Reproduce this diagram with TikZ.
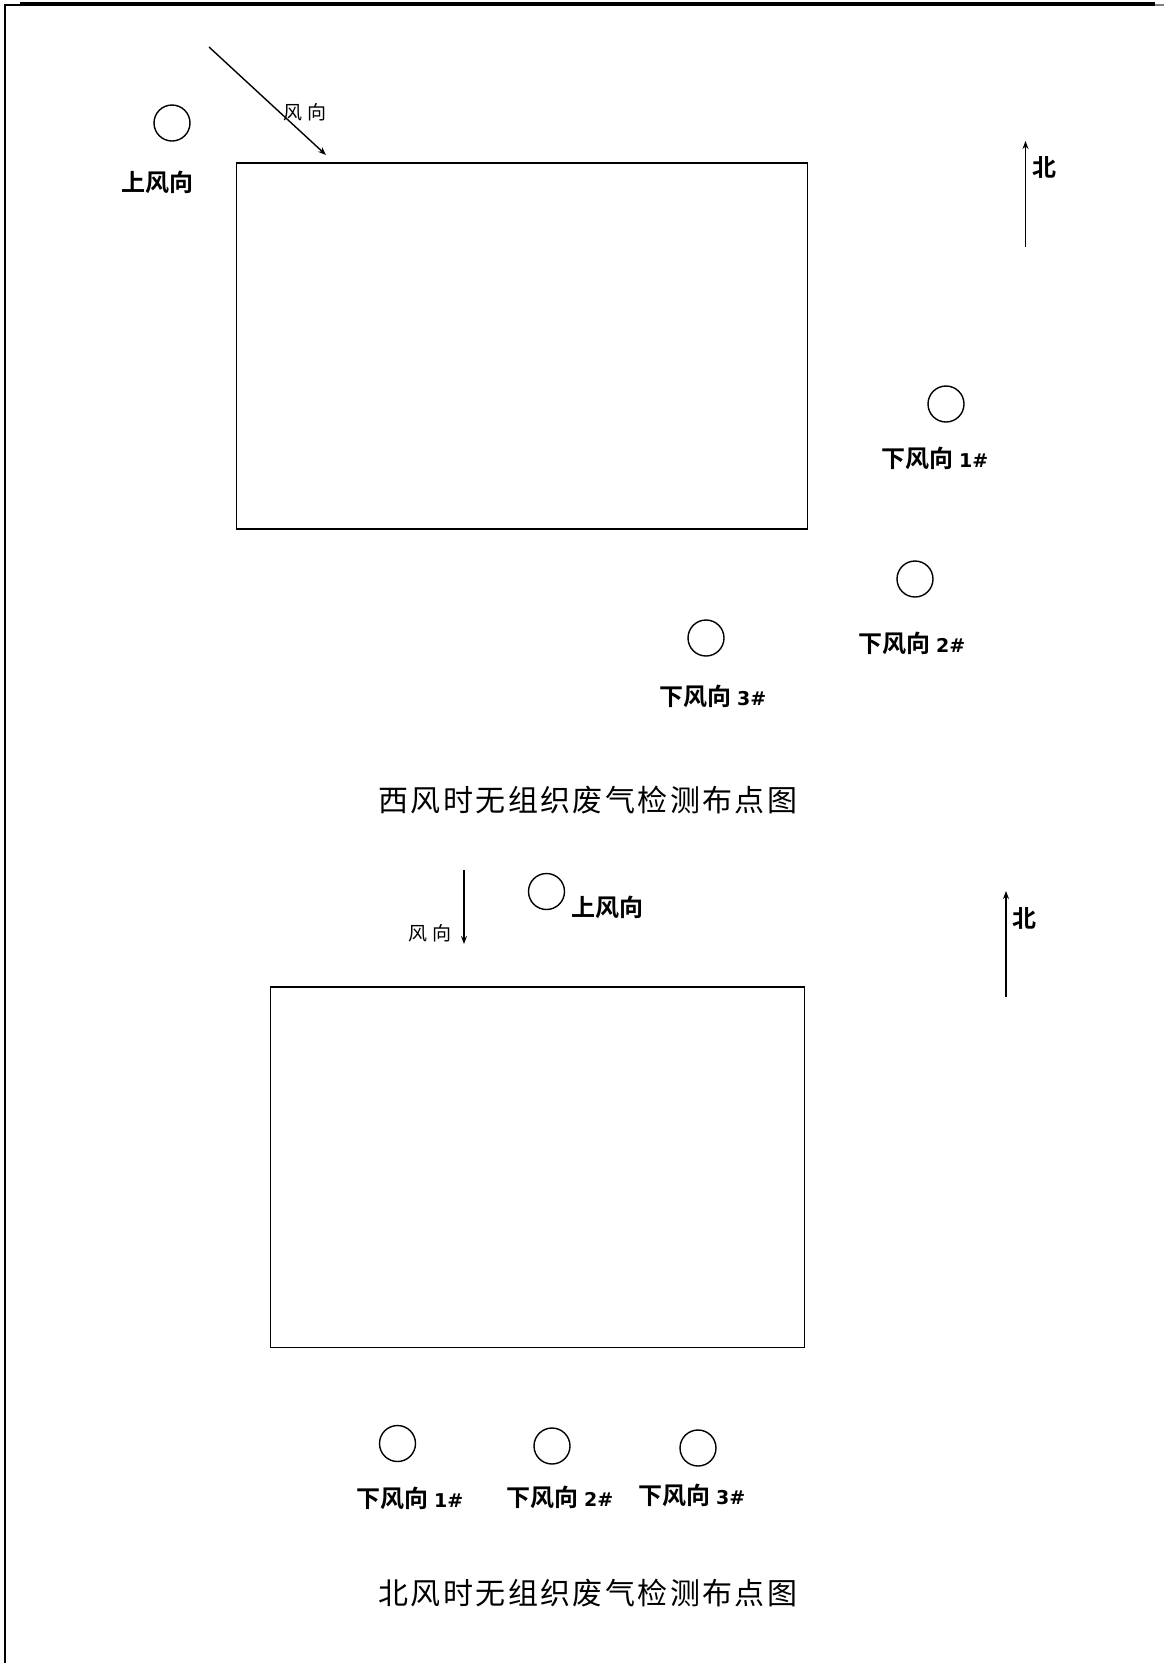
\documentclass[tikz,border=0pt]{standalone}
\usepackage{fontspec}
\usetikzlibrary{arrows.meta}
\newfontfamily\cjk{Noto Sans CJK SC}
\newfontfamily\cjkbold{Noto Sans CJK SC Bold}
\newfontfamily\latb{DejaVu Sans Bold}
\newfontfamily\titlefont[LetterSpace=8]{Noto Sans CJK SC}
\tikzset{
  site/.style={circle, draw, line width=1.4pt, minimum size=36pt, inner sep=0pt},
  lbl/.style={font=\cjkbold\fontsize{24}{28}\selectfont, inner sep=0pt},
  wlbl/.style={font=\cjk\fontsize{19}{22}\selectfont, inner sep=0pt},
  ttl/.style={font=\titlefont\fontsize{30}{36}\selectfont, inner sep=0pt},
  arr/.style={-{Stealth[length=8pt,width=6pt]}, line width=1.4pt},
  plot/.style={draw, line width=1.4pt},
}
\newcommand{\num}[1]{{\latb\fontsize{19}{24}\selectfont #1}}
\begin{document}
\begin{tikzpicture}[x=1pt,y=-1pt]
\useasboundingbox (0,0) rectangle (1164,1663);
\fill[white] (0,0) rectangle (1164,1663);
% frame
\coordinate (fa) at (20,4); \coordinate (fb) at (1155,4);
\coordinate (fc) at (1155,5); \coordinate (fd) at (1164,5);
\coordinate (fe) at (5,5); \coordinate (ff) at (5,1663); \coordinate (fg) at (20,5);
\draw[line width=3.5pt] (fa) -- (fb);
\draw[line width=1.2pt, gray] (fc) -- (fd);
\draw[line width=1.4pt] (fg) -- (fe) -- (ff);

% ---------- top diagram (west wind) ----------
\draw[plot] (236.5,163) rectangle (807.5,529);
\coordinate (w1s) at (209,47); \coordinate (w1e) at (326,155);
\draw[arr] (w1s) -- (w1e);
\node[wlbl] (w1l) at (305,112) {风 向};
\node[site] (u1) at (172,123) {};
\node[lbl] (u1l) at (157,182) {上风向};
\coordinate (n1s) at (1025.5,247); \coordinate (n1e) at (1025.5,141);
\draw[arr, line width=1.6pt] (n1s) -- (n1e);
\node[lbl] (n1l) at (1044,167) {北};
\node[site] (d11) at (946,404) {};
\node[lbl] (d11l) at (935,458) {下风向 \num{1\#}};
\node[site] (d12) at (915,579) {};
\node[lbl] (d12l) at (912,643) {下风向 \num{2\#}};
\node[site] (d13) at (706,638) {};
\node[lbl] (d13l) at (713,696) {下风向 \num{3\#}};
\node[ttl] (t1) at (588,800) {西风时无组织废气检测布点图};

% ---------- bottom diagram (north wind) ----------
\draw[plot] (270.5,987) rectangle (804.5,1347.5);
\coordinate (w2s) at (464,870); \coordinate (w2e) at (464,944);
\draw[arr] (w2s) -- (w2e);
\node[wlbl] (w2l) at (430,933) {风 向};
\node[site] (u2) at (546.5,891.5) {};
\node[lbl] (u2l) at (607,907) {上风向};
\coordinate (n2s) at (1006,997); \coordinate (n2e) at (1006,891);
\draw[arr, line width=1.6pt] (n2s) -- (n2e);
\node[lbl] (n2l) at (1024,918) {北};
\node[site] (d21) at (397.5,1443.5) {};
\node[lbl] (d21l) at (410,1498) {下风向 \num{1\#}};
\node[site] (d22) at (552,1446) {};
\node[lbl] (d22l) at (560,1497.5) {下风向 \num{2\#}};
\node[site] (d23) at (698,1448) {};
\node[lbl] (d23l) at (692,1495) {下风向 \num{3\#}};
\node[ttl] (t2) at (588,1593) {北风时无组织废气检测布点图};
\end{tikzpicture}
\end{document}
